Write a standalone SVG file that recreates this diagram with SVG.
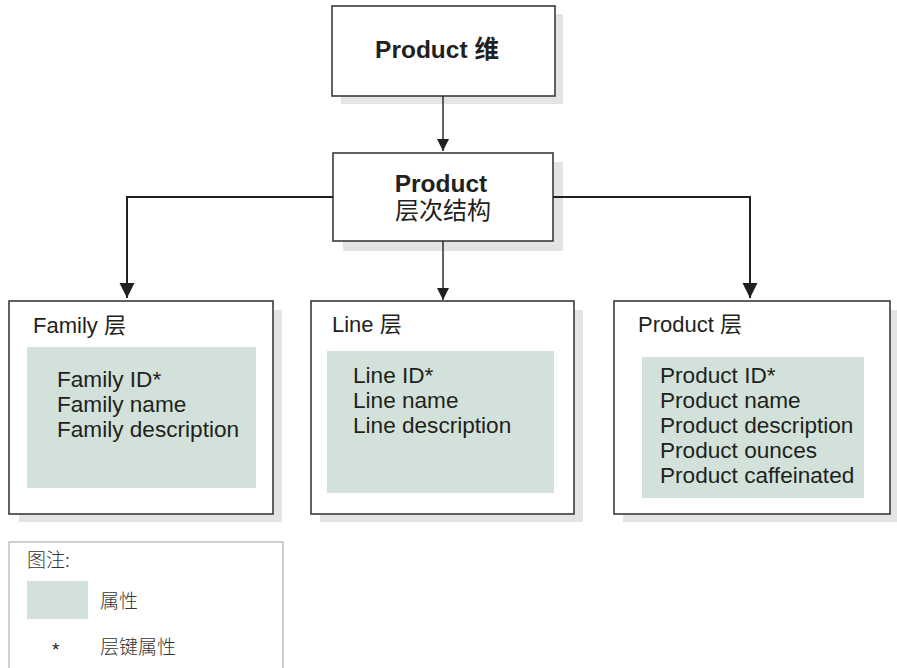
<svg xmlns="http://www.w3.org/2000/svg" width="897" height="668" viewBox="0 0 897 668">
  <defs>
    <marker id="tri" viewBox="0 0 10 10" refX="10" refY="5" markerWidth="12" markerHeight="13" markerUnits="userSpaceOnUse" orient="auto">
      <path d="M0,0 L10,5 L0,10 Z" fill="#231f20"/>
    </marker>
    <marker id="triBig" viewBox="0 0 10 10" refX="10" refY="5" markerWidth="15" markerHeight="16" markerUnits="userSpaceOnUse" orient="auto">
      <path d="M0,0 L10,5 L0,10 Z" fill="#231f20"/>
    </marker>
  </defs>
  <style>
    .shadow { fill: #e3e4e5; }
    .box { fill: #ffffff; stroke: #3a3a3a; stroke-width: 1.6; }
    .attr { fill: #d2e2da; }
    .title { font-family: "Liberation Sans", "Noto Sans CJK SC", Arial, sans-serif; font-size: 24.5px; font-weight: bold; fill: #231f20; }
    .sub { font-family: "Liberation Sans", "Noto Sans CJK SC", Arial, sans-serif; font-size: 24px; fill: #231f20; }
    .level { font-family: "Liberation Sans", "Noto Sans CJK SC", Arial, sans-serif; font-size: 22px; fill: #231f20; }
    .item { font-family: "Liberation Sans", "Noto Sans CJK SC", Arial, sans-serif; font-size: 22.6px; fill: #231f20; }
    .legend { font-family: "Noto Sans CJK SC", sans-serif; font-size: 19px; font-weight: 300; fill: #333333; }
    .star { font-family: "Liberation Sans", Arial, sans-serif; font-size: 19px; fill: #231f20; }
    .conn { fill: none; stroke: #231f20; }
  </style>

  <rect width="897" height="668" fill="#ffffff"/>

  <!-- dimension -->
  <g id="dimension">
    <rect class="shadow" x="341" y="14" width="222" height="90"/>
    <rect class="box" x="332" y="6" width="223" height="90"/>
    <text class="title" x="437" y="58" text-anchor="middle">Product 维</text>
  </g>

  <!-- hierarchy -->
  <g id="hierarchy">
    <rect class="shadow" x="343" y="162" width="220" height="89"/>
    <rect class="box" x="333" y="153" width="220" height="88"/>
    <text class="title" x="441" y="192" text-anchor="middle">Product</text>
    <text class="sub" x="443" y="219" text-anchor="middle">层次结构</text>
  </g>

  <!-- family level -->
  <g id="family-level">
    <rect class="shadow" x="19" y="310" width="263" height="212"/>
    <rect class="box" x="9" y="301" width="264" height="213"/>
    <text class="level" x="33" y="333">Family 层</text>
    <rect class="attr" x="27" y="347" width="229" height="141"/>
    <text class="item" x="57" y="387">Family ID*</text>
    <text class="item" x="57" y="412">Family name</text>
    <text class="item" x="57" y="437">Family description</text>
  </g>

  <!-- line level -->
  <g id="line-level">
    <rect class="shadow" x="320" y="310" width="263" height="212"/>
    <rect class="box" x="311" y="301" width="263" height="213"/>
    <text class="level" x="332" y="332">Line  层</text>
    <rect class="attr" x="327" y="351" width="227" height="142"/>
    <text class="item" x="353" y="383">Line ID*</text>
    <text class="item" x="353" y="408">Line name</text>
    <text class="item" x="353" y="433">Line description</text>
  </g>

  <!-- product level -->
  <g id="product-level">
    <rect class="shadow" x="623" y="310" width="276" height="212"/>
    <rect class="box" x="614" y="301" width="276" height="213"/>
    <text class="level" x="638" y="332">Product  层</text>
    <rect class="attr" x="642" y="357" width="222" height="141"/>
    <text class="item" x="660" y="383">Product ID*</text>
    <text class="item" x="660" y="408">Product name</text>
    <text class="item" x="660" y="433">Product description</text>
    <text class="item" x="660" y="458">Product ounces</text>
    <text class="item" x="660" y="483">Product caffeinated</text>
  </g>

  <!-- connectors -->
  <g id="connectors">
    <path class="conn" stroke-width="1.4" d="M443,96 V151" marker-end="url(#tri)"/>
    <path class="conn" stroke-width="1.4" d="M443,241 V300" marker-end="url(#tri)"/>
    <path class="conn" stroke-width="2" d="M333,197 H127 V298" marker-end="url(#triBig)"/>
    <path class="conn" stroke-width="2" d="M553,197 H750 V298" marker-end="url(#triBig)"/>
  </g>

  <!-- legend -->
  <g id="legend">
    <rect x="9" y="542" width="274" height="140" fill="#ffffff" stroke="#cfcfcf" stroke-width="2"/>
    <text class="legend" x="27" y="567">图注:</text>
    <rect class="attr" x="27" y="581" width="61" height="38"/>
    <text class="legend" x="100" y="608">属性</text>
    <text class="star" x="52" y="656">*</text>
    <text class="legend" x="100" y="654">层键属性</text>
  </g>
</svg>
